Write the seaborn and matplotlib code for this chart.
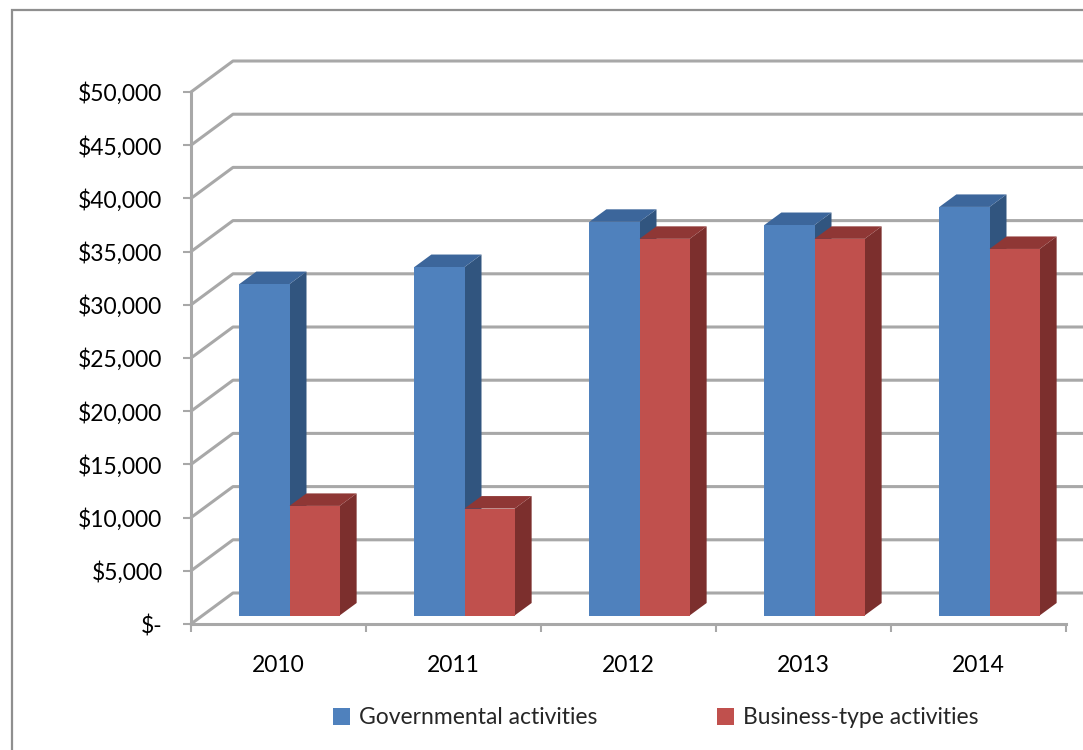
import matplotlib
matplotlib.use("Agg")
import matplotlib.pyplot as plt
from matplotlib.patches import Polygon, Rectangle
import pandas as pd
import seaborn as sns

years = ["2010", "2011", "2012", "2013", "2014"]
governmental = [31150, 32750, 37000, 36700, 38400]
business = [10300, 10050, 35400, 35400, 34450]
y_ticks = [0, 5000, 10000, 15000, 20000, 25000, 30000, 35000, 40000, 45000, 50000]
y_labels = ["$-", "$5,000", "$10,000", "$15,000", "$20,000", "$25,000",
            "$30,000", "$35,000", "$40,000", "$45,000", "$50,000"]
series_names = ["Governmental activities", "Business-type activities"]

W, H = 1083, 750
GRID = "#a8a8a8"

sns.set_theme(style="white")
plt.rcParams["font.family"] = ["Lato", "DejaVu Sans"]


def px_axes(fig, left, top, right, bottom):
    # axes placed by pixel edges, y counted from the top of the picture
    return fig.add_axes([left / W, 1 - bottom / H, (right - left) / W, (bottom - top) / H])


df = pd.DataFrame({
    "year": years * 2,
    "value": governmental + business,
    "series": [series_names[0]] * 5 + [series_names[1]] * 5,
})

fig = plt.figure(figsize=(W / 100, H / 100), dpi=100)
fig.add_artist(Rectangle((12 / W, -0.05), 1.1, 1.05 - 10 / H, transform=fig.transFigure,
                         fill=False, edgecolor="#8f8f8f", linewidth=1.6))

# front plane of the box: axis lines, ticks and labels
ax = px_axes(fig, 191, 92, 1066, 624)
ax.set_xlim(-0.5, 4.5)
ax.set_ylim(0, 50000)
ax.patch.set_alpha(0)
for side in ["top", "right"]:
    ax.spines[side].set_visible(False)
for side in ["left", "bottom"]:
    ax.spines[side].set_color(GRID)
    ax.spines[side].set_linewidth(2.2)
ax.spines["bottom"].set_zorder(1)

ax.set_yticks(y_ticks, labels=y_labels, fontsize=16.5, color="black")
ax.tick_params(axis="y", left=True, length=5.5, width=1.5, color=GRID, pad=15)
ax.set_xticks([-0.5, 0.5, 1.5, 2.5, 3.5, 4.5], labels=[])
ax.tick_params(axis="x", which="major", bottom=True, length=5.5, width=1.5, color=GRID)
ax.set_xticks(range(5), labels=years, minor=True, fontsize=16.5, color="black")
ax.tick_params(axis="x", which="minor", bottom=False, length=0, pad=22)

# back wall and left wall lines, going up and to the right by the box depth
wall_dx = 42 / 175
wall_dy = 31 / 10.64 * 1000
for v in y_ticks:
    ax.plot([-0.5, -0.5 + wall_dx, 5], [v, v + wall_dy, v + wall_dy],
            color=GRID, lw=2.2, clip_on=False, zorder=1, solid_joinstyle="round")

# bars sit a little way inside the box, so they get their own plane
ax_bars = px_axes(fig, 202, 83.5, 1077, 615.5)
ax_bars.patch.set_alpha(0)
sns.barplot(data=df, x="year", y="value", hue="series", ax=ax_bars,
            palette=["#4f81bd", "#c0504d"], width=0.573, gap=0,
            saturation=1, linewidth=0, errorbar=None)
ax_bars.set_xlim(-0.5, 4.5)
ax_bars.set_ylim(0, 50000)
ax_bars.axis("off")

# side and top faces worked out from each bar
bar_dx = 17 / 175
bar_dy = 12.5 / 10.64 * 1000
side_colors = ["#31557f", "#7c2f2d"]
top_colors = ["#3c669b", "#8f3735"]
for i, container in enumerate(ax_bars.containers):
    for bar in container:
        x0, x1 = bar.get_x(), bar.get_x() + bar.get_width()
        h = bar.get_height()
        bar.set_zorder(3 + 2 * i)
        ax_bars.add_patch(Polygon([(x1, 0), (x1 + bar_dx, bar_dy), (x1 + bar_dx, h + bar_dy), (x1, h)],
                                  facecolor=side_colors[i], edgecolor="none", zorder=2 + 2 * i, clip_on=False))
        ax_bars.add_patch(Polygon([(x0, h), (x0 + bar_dx, h + bar_dy), (x1 + bar_dx, h + bar_dy), (x1, h)],
                                  facecolor=top_colors[i], edgecolor="none", zorder=2 + 2 * i, clip_on=False))

sns.move_legend(ax_bars, "center left", bbox_to_anchor=(333 / W, 1 - 718 / H),
                bbox_transform=fig.transFigure, ncols=2, title=None, frameon=False,
                fontsize=16.5, handlelength=0.75, handleheight=0.75, handletextpad=0.4,
                columnspacing=5.2, borderpad=0, borderaxespad=0)

fig.savefig("out.png", dpi=100)
